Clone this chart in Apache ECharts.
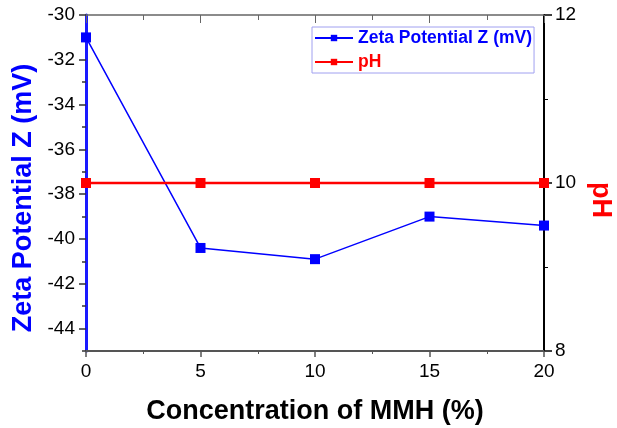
<!DOCTYPE html>
<html>
<head>
<meta charset="utf-8">
<script src="https://cdn.jsdelivr.net/npm/echarts@6/dist/echarts.min.js"></script>
<style>
html, body { margin: 0; padding: 0; background: #fff; }
#main { width: 617px; height: 428px; }
</style>
</head>
<body>
<div id="main"></div>
<script>
// 数据
var concentration = [0, 5, 10, 15, 20];
var zetaValues = [-31, -40.4, -40.9, -39, -39.4];
var phValues = [10, 10, 10, 10, 10];
// 刻度
var zetaMajorTicks = [-44, -42, -40, -38, -36, -34, -32, -30];
var zetaMinorTicks = [-45, -43, -41, -39, -37, -35, -33, -31];

var FONT = 'Liberation Sans, Arial, sans-serif';

function pairs(xs, ys) {
	var out = [];
	for (var i = 0; i < xs.length; i++) {
		out.push([xs[i], ys[i]]);
	}
	return out;
}

var myChart = echarts.init(document.getElementById('main'));

var option = {
	animation: false,
	textStyle: { fontFamily: FONT },
	grid: { left: 86, right: 73, top: 15, bottom: 77, outerBoundsMode: 'none', containLabel: false },
	legend: {
		orient: 'vertical',
		left: 312,
		top: 27,
		padding: [1, 2, 1, 2],
		itemWidth: 38,
		itemHeight: 8,
		itemGap: 4,
		borderColor: '#a0a0f0',
		borderWidth: 1,
		textStyle: { fontSize: 17.5, fontWeight: 'bold', lineHeight: 20 },
		data: [
			{ name: 'Zeta Potential Z (mV)', textStyle: { color: '#0000ff' } },
			{ name: 'pH', textStyle: { color: '#ff0000' } }
		]
	},
	xAxis: [
		{ //底部x轴
			type: 'value',
			min: 0,
			max: 20,
			interval: 5,
			name: 'Concentration of MMH (%)',
			nameLocation: 'middle',
			nameGap: 47,
			nameTextStyle: { fontSize: 27, fontWeight: 'bold', color: '#000' },
			axisLine: { onZero: false, lineStyle: { color: '#555', width: 2 } },
			axisTick: { length: 6, lineStyle: { color: '#555', width: 1.5 } },
			minorTick: { show: true, splitNumber: 2, length: 3, lineStyle: { color: '#555' } },
			axisLabel: { fontSize: 19, color: '#000', margin: 11 },
			splitLine: { show: false }
		},
		{ //顶部x轴，只画刻度
			type: 'value',
			position: 'top',
			min: 0,
			max: 20,
			interval: 5,
			axisLine: { onZero: false, lineStyle: { color: '#666', width: 1.5 } },
			axisTick: { inside: true, length: 8, lineStyle: { color: '#666' } },
			minorTick: { show: true, splitNumber: 2, length: 5, lineStyle: { color: '#666' } },
			axisLabel: { show: false },
			splitLine: { show: false }
		}
	],
	yAxis: [
		{ //左轴 Zeta
			type: 'value',
			position: 'left',
			min: -45,
			max: -30,
			interval: 1,
			name: 'Zeta Potential Z (mV)',
			nameLocation: 'middle',
			nameRotate: 90,
			nameGap: 46,
			nameTextStyle: { fontSize: 27, fontWeight: 'bold', color: '#0000ff', padding: [0, 30, 0, 0] },
			axisLine: { show: true, onZero: false, lineStyle: { color: '#1a1aff', width: 3 } },
			axisTick: { customValues: zetaMajorTicks, length: 7, lineStyle: { color: '#333', width: 1.5 } },
			axisLabel: { customValues: zetaMajorTicks, fontSize: 19, color: '#000', margin: 11 },
			splitLine: { show: false }
		},
		{ //右轴 pH
			type: 'value',
			position: 'right',
			min: 8,
			max: 12,
			interval: 2,
			name: 'pH',
			nameLocation: 'middle',
			nameRotate: -90,
			nameGap: 43,
			nameTextStyle: { fontSize: 27, fontWeight: 'bold', color: '#ff0000', padding: [0, 0, 0, 34] },
			axisLine: { show: true, onZero: false, lineStyle: { color: '#000', width: 2 } },
			axisTick: { length: 8, lineStyle: { color: '#000', width: 1.5 } },
			minorTick: { show: true, splitNumber: 2, length: 4, lineStyle: { color: '#000' } },
			axisLabel: { fontSize: 19, color: '#000', margin: 11 },
			splitLine: { show: false }
		},
		{ //左轴的小刻度
			type: 'value',
			position: 'left',
			min: -45,
			max: -30,
			interval: 1,
			axisLine: { show: false, onZero: false },
			axisTick: { customValues: zetaMinorTicks, length: 4, lineStyle: { color: '#333', width: 1.5 } },
			axisLabel: { show: false },
			splitLine: { show: false }
		}
	],
	series: [
		{
			name: 'Zeta Potential Z (mV)',
			type: 'line',
			xAxisIndex: 0,
			yAxisIndex: 0,
			data: pairs(concentration, zetaValues),
			symbol: 'rect',
			symbolSize: 10,
			clip: false,
			itemStyle: { color: '#0000ff' },
			lineStyle: { color: '#0000ff', width: 1.5 }
		},
		{
			name: 'pH',
			type: 'line',
			xAxisIndex: 0,
			yAxisIndex: 1,
			data: pairs(concentration, phValues),
			symbol: 'rect',
			symbolSize: 10,
			clip: false,
			itemStyle: { color: '#ff0000' },
			lineStyle: { color: '#ff0000', width: 2.5 }
		}
	]
};

myChart.setOption(option);
</script>
</body>
</html>
